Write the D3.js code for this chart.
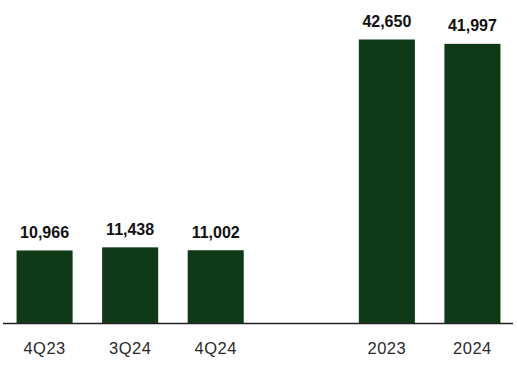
<!DOCTYPE html>
<html><head><meta charset="utf-8">
<script src="https://cdn.jsdelivr.net/npm/d3@7"></script>
<style>html,body{margin:0;padding:0;background:#fff;}svg{display:block;}</style>
</head><body>
<svg id="c" width="517" height="369"></svg>
<script>
const categories = ["4Q23", "3Q24", "4Q24", "", "2023", "2024"];
const values = [10966, 11438, 11002, null, 42650, 41997];
const labels = ["10,966", "11,438", "11,002", "", "42,650", "41,997"];

const svg = d3.select("#c");
const baseY = 323.5;
const x = d3.scaleBand().domain(d3.range(categories.length)).range([2, 515]).paddingInner(0.345).paddingOuter(0.17);
const y = d3.scaleLinear().domain([0, 42650]).range([baseY, 39.5]);
const data = categories.map((c, i) => ({c, v: values[i], l: labels[i], i}));
const barData = data.filter(d => d.v != null);

svg.selectAll("rect.bar").data(barData).join("rect").attr("class", "bar")
  .attr("x", d => x(d.i)).attr("width", x.bandwidth())
  .attr("y", d => y(d.v)).attr("height", d => baseY - y(d.v))
  .attr("fill", "#0f3a17");

svg.append("line").attr("x1", 3).attr("x2", 513).attr("y1", baseY).attr("y2", baseY)
  .attr("stroke", "#222").attr("stroke-width", 1.5);

svg.selectAll("text.val").data(barData).join("text").attr("class", "val")
  .attr("x", d => x(d.i) + x.bandwidth() / 2).attr("y", d => y(d.v) - 12.5)
  .attr("text-anchor", "middle").attr("font-family", "Liberation Sans, Arial, sans-serif")
  .attr("font-weight", "bold").attr("font-size", 16).attr("fill", "#111").text(d => d.l);

svg.selectAll("text.cat").data(barData).join("text").attr("class", "cat")
  .attr("x", d => x(d.i) + x.bandwidth() / 2).attr("y", 354)
  .attr("text-anchor", "middle").attr("font-family", "Liberation Sans, Arial, sans-serif")
  .attr("font-size", 16.5).attr("letter-spacing", 0.5).attr("fill", "#2a2a2a").text(d => d.c);
</script>
</body></html>
